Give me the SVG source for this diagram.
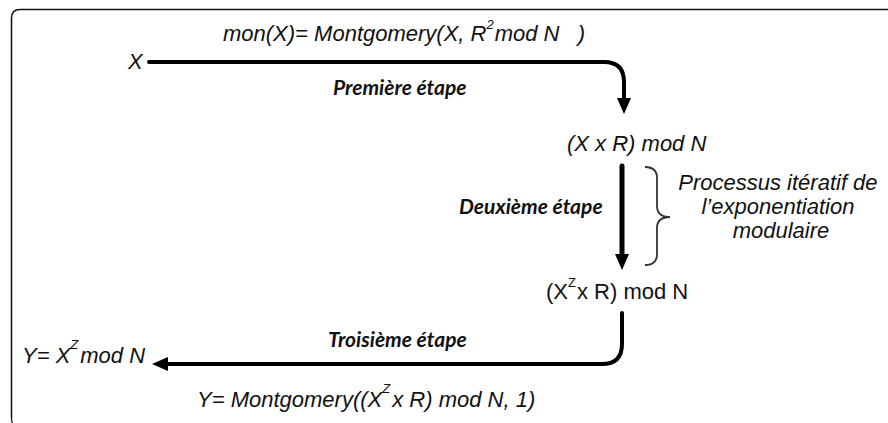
<svg xmlns="http://www.w3.org/2000/svg" width="888" height="423" viewBox="0 0 888 423">
  <style>
    .f { font-family: "Liberation Sans", Arial, sans-serif; fill: #111; font-size: 22px; }
    .it { font-style: italic; }
    .sup { font-size: 13px; }
    .step { font-family: Lato, "Liberation Sans", sans-serif; font-weight: bold; font-style: italic; font-size: 21px; fill: #111; }
    .wire { fill: none; stroke: #000; stroke-linecap: round; }
  </style>
  <defs>
    <marker id="head" viewBox="0 0 16 14" refX="0" refY="7" markerWidth="16" markerHeight="14" markerUnits="userSpaceOnUse" orient="auto">
      <path d="M0,0 L16,7 L0,14 Z" fill="#000"/>
    </marker>
  </defs>

  <!-- frame -->
  <path d="M11.5,418 V18 Q11.5,9.5 20,9.5 H888" fill="none" stroke="#111" stroke-width="1.5"/>
  <path d="M11.5,418 Q11.5,423 14,425" fill="none" stroke="#111" stroke-width="1.2"/>

  <!-- connectors -->
  <g id="connectors">
    <path class="wire" stroke-width="4" d="M149,62 H604 Q624,62 624,82 V98" marker-end="url(#head)"/>
    <path class="wire" stroke-width="5" d="M622,166 V254" marker-end="url(#head)"/>
    <path class="wire" stroke-width="4" d="M622,313 V344 Q622,364 602,364 H168" marker-end="url(#head)"/>
    <!-- brace grouping the iterative stage -->
    <path d="M645,167 Q657,167 657,178 V206 Q657,217 670,217 Q657,217 657,228 V254 Q657,265 645,265" fill="none" stroke="#333" stroke-width="1.8"/>
  </g>

  <g id="input">
    <text class="f it" x="128" y="69">X</text>
  </g>

  <g id="step1">
    <text class="f it" x="223" y="41">mon(X)= Montgomery(X,&#160;R<tspan class="sup" dx="0" dy="-12">2</tspan><tspan dx="1" dy="12">mod N&#160;&#160;&#160;)</tspan></text>
    <text class="step" x="333" y="95">Première étape</text>
  </g>

  <g id="mont-form">
    <text class="f it" x="567" y="151">(X x R) mod N</text>
  </g>

  <g id="step2">
    <text class="step" x="459" y="214">Deuxième étape</text>
    <text class="f it" text-anchor="middle">
      <tspan x="781" y="190">Processus itératif de</tspan>
      <tspan x="781" y="214">l’exponentiation</tspan>
      <tspan x="781" y="238">modulaire</tspan>
    </text>
  </g>

  <g id="mont-result">
    <text class="f" x="546" y="299">(X<tspan class="sup" dx="0" dy="-12">Z</tspan><tspan dx="1" dy="12">x R) mod N</tspan></text>
  </g>

  <g id="step3">
    <text class="step" x="328" y="347">Troisième étape</text>
    <text class="f it" x="197" y="407">Y= Montgomery((X<tspan class="sup" dx="0" dy="-14">Z</tspan><tspan dx="2" dy="14">x R) mod N, 1)</tspan></text>
  </g>

  <g id="output">
    <text class="f it" x="22" y="363">Y= X<tspan class="sup" dx="0" dy="-14">Z</tspan><tspan dy="14" dx="2">mod N</tspan></text>
  </g>
</svg>
